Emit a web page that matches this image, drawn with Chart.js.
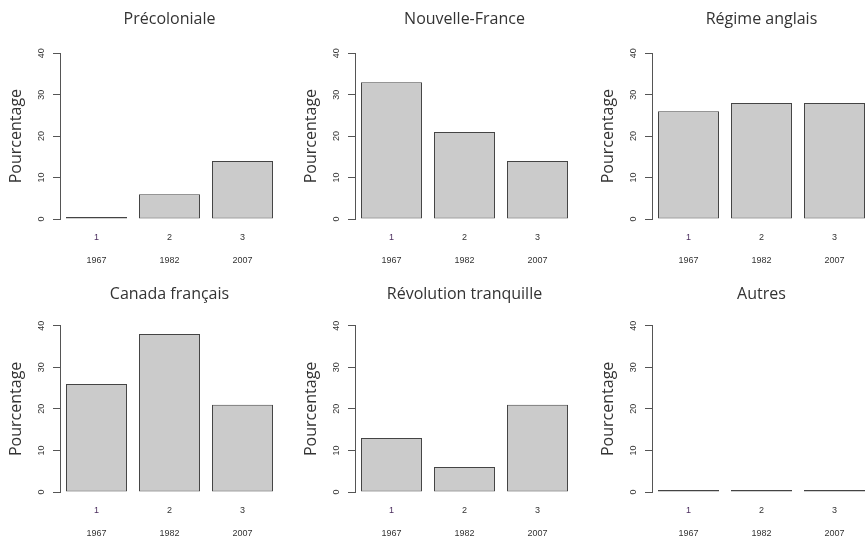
<!DOCTYPE html>
<html>
<head>
<meta charset="utf-8">
<script src="https://cdn.jsdelivr.net/npm/chart.js@4"></script>
<style>
  body { margin: 0; width: 865px; height: 540px; overflow: hidden; background: #fff; position: relative; }
  canvas { position: absolute; }
</style>
</head>
<body>
<script>
// one panel per period, three surveys each
const periods = ["Précoloniale", "Nouvelle-France", "Régime anglais",
  "Canada français", "Révolution tranquille", "Autres"];
const pct1967 = [0, 33, 26, 26, 13, 0];
const pct1982 = [6, 21, 28, 38, 6, 0];
const pct2007 = [14, 14, 28, 21, 21, 0];
const barIds = ["1", "2", "3"];
const years = ["1967", "1982", "2007"];
const yMax = 40;
const yStep = 10;

Chart.defaults.font.family = "'Liberation Sans', Arial, sans-serif";
Chart.defaults.animation = false;

const colLeft = [0, 295, 592];
const rowTop = [0, 273];
const titlePad = [{ top: 10, bottom: 24 }, { top: 12, bottom: 21.5 }];

periods.forEach((name, i) => {
  const row = Math.floor(i / 3), col = i % 3;
  const cv = document.createElement("canvas");
  cv.width = 295;
  cv.height = 270;
  cv.style.left = colLeft[col] + "px";
  cv.style.top = rowTop[row] + "px";
  document.body.appendChild(cv);

  new Chart(cv, {
    type: "bar",
    data: {
      labels: barIds,
      datasets: [{
        data: [pct1967[i], pct1982[i], pct2007[i]],
        backgroundColor: "#cbcbcb",
        borderColor: "#444",
        borderWidth: 1,
        borderSkipped: false,
        minBarLength: 2,
        barPercentage: 0.836,
        categoryPercentage: 1,
      }],
    },
    options: {
      responsive: false,
      layout: { padding: { left: 0, right: 16, top: 0, bottom: 0 } },
      plugins: {
        legend: { display: false },
        tooltip: { enabled: false },
        title: {
          display: true,
          text: name,
          fullSize: false,
          color: "#333",
          font: { family: "'Open Sans', sans-serif", size: 16, weight: "normal" },
          padding: titlePad[row],
        },
      },
      scales: {
        x: {
          weight: 0,
          grid: { display: false, drawTicks: false },
          border: { display: false },
          ticks: {
            padding: 13,
            font: { size: 9 },
            color: (ctx) => (ctx.index === 0 ? "#4b2d5e" : "#333"),
          },
          afterFit: (s) => { s.height = 28; },
        },
        x2: {
          type: "category",
          labels: years,
          position: "bottom",
          offset: true,
          weight: 1,
          grid: { display: false, drawTicks: false },
          border: { display: false },
          ticks: { padding: 8, font: { size: 9 }, color: "#333" },
          afterFit: (s) => { s.height = 23; },
        },
        y: {
          min: 0,
          max: yMax,
          grid: { drawOnChartArea: false, drawTicks: true, tickLength: 7, color: "#555" },
          border: { display: true, color: "#555", width: 1 },
          ticks: {
            stepSize: yStep,
            minRotation: 90,
            maxRotation: 90,
            crossAlign: "center",
            padding: 6,
            font: { size: 9 },
            color: "#333",
          },
          title: {
            display: true,
            text: "Pourcentage",
            color: "#333",
            font: { family: "'Open Sans', sans-serif", size: 16 },
            padding: { top: 7, bottom: 0 },
          },
          afterFit: (s) => { s.width = 60; },
        },
      },
    },
  });
});
</script>
</body>
</html>
